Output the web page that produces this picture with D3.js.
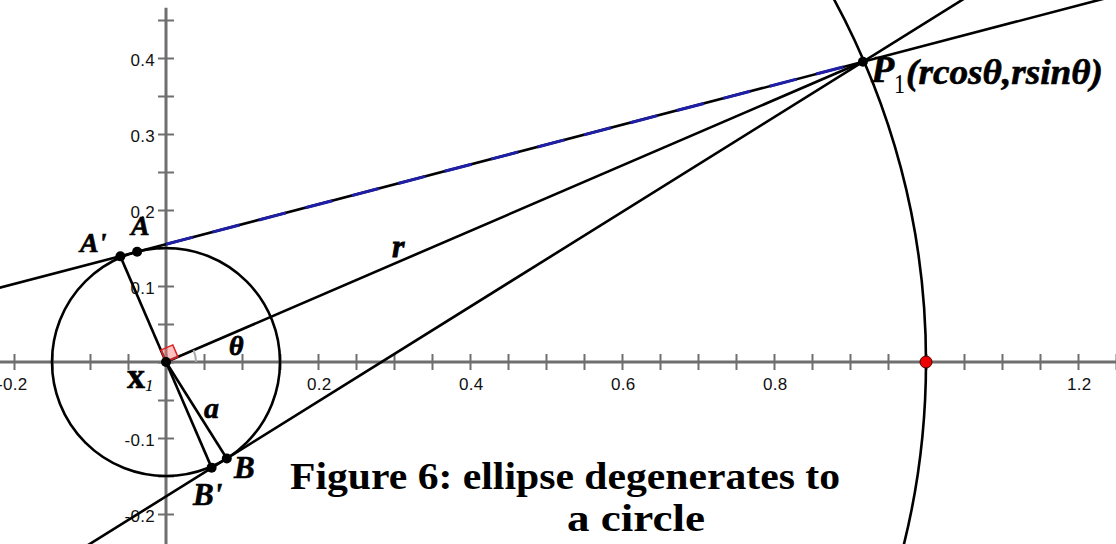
<!DOCTYPE html>
<html><head><meta charset="utf-8">
<script src="https://cdn.jsdelivr.net/npm/d3@7"></script>
<style>
html,body{margin:0;padding:0;background:#fff;}
svg{display:block;}
</style></head><body>
<svg id="c" width="1116" height="544"></svg>
<script>
// ---------- data ----------
const xTickValues = [-0.2,-0.15,-0.1,-0.05,0,0.05,0.1,0.15,0.2,0.25,0.3,0.35,0.4,0.45,0.5,0.55,0.6,0.65,0.7,0.75,0.8,0.85,0.9,0.95,1.0,1.05,1.1,1.15,1.2,1.25];
const xTickLabels = [-0.2,0.2,0.4,0.6,0.8,1.2];
const yTickValues = [-0.2,-0.15,-0.1,-0.05,0,0.05,0.1,0.15,0.2,0.25,0.3,0.35,0.4,0.45];
const yTickLabels = [0.4,0.3,0.2,0.1,-0.1,-0.2];
const pointNames = ["x1","A'","A","B","B'","P1"];
const pointX = [0, -0.060, -0.038, 0.080, 0.060, 0.917];
const pointY = [0, 0.139, 0.145, -0.127, -0.139, 0.395];
const circleRadius = 0.15;   // a
const arcRadius = 1.0;       // r
const redPointX = [1.0];
const redPointY = [0];
const fullLines = [["P1","A"],["P1","B"]];
const segments = [["x1","P1"],["x1","A'"],["x1","B"],["x1","B'"]];
const blueStartX = 0;
const captionLines = ["Figure 6: ellipse degenerates to","a circle"];

// ---------- scales ----------
const W = 1116, H = 544;
const x = d3.scaleLinear().domain([0,1]).range([166,926]);
const y = d3.scaleLinear().domain([0,1]).range([362,-398]);
const svg = d3.select("#c");
svg.append("rect").attr("width",W).attr("height",H).attr("fill","#fff");

const P = {};
pointNames.forEach((n,i)=>P[n]={x:pointX[i],y:pointY[i]});
const theta = Math.atan2(P.P1.y, P.P1.x);

// ---------- axes ----------
const axisColor = "#6f6f6f";
const tickFont = "Liberation Sans, Arial, sans-serif";
svg.append("line").attr("x1",0).attr("x2",W).attr("y1",y(0)).attr("y2",y(0))
  .attr("stroke",axisColor).attr("stroke-width",3);
svg.append("line").attr("x1",x(0)).attr("x2",x(0)).attr("y1",y(0.466)).attr("y2",H)
  .attr("stroke",axisColor).attr("stroke-width",3);

const gx = svg.append("g").attr("transform",`translate(0,${y(0)-8})`)
  .call(d3.axisBottom(x).tickValues(xTickValues).tickSize(16).tickFormat(""));
gx.select(".domain").remove();
gx.selectAll(".tick line").attr("stroke",axisColor).attr("stroke-width",2);

const gy = svg.append("g").attr("transform",`translate(${x(0)+8},0)`)
  .call(d3.axisLeft(y).tickValues(yTickValues).tickSize(16).tickFormat(""));
gy.select(".domain").remove();
gy.selectAll(".tick line").attr("stroke",axisColor).attr("stroke-width",2);

const gxl = svg.append("g").attr("transform",`translate(0,${y(0)})`)
  .call(d3.axisBottom(x).tickValues(xTickLabels).tickSize(0).tickPadding(16).tickFormat(d=>d.toFixed(1)));
gxl.select(".domain").remove();
gxl.selectAll("text").attr("text-anchor","end").attr("x",13)
  .attr("font-family",tickFont).attr("font-size",17).attr("letter-spacing",0.3).attr("fill","#111");

const gyl = svg.append("g").attr("transform",`translate(${x(0)},2)`)
  .call(d3.axisLeft(y).tickValues(yTickLabels).tickSize(0).tickPadding(11).tickFormat(d=>d.toFixed(1)));
gyl.select(".domain").remove();
gyl.selectAll("text")
  .attr("font-family",tickFont).attr("font-size",17).attr("letter-spacing",0.3).attr("fill","#111");

// ---------- geometry ----------
const ink = "#000";
svg.append("circle").attr("cx",x(0)).attr("cy",y(0)).attr("r",x(arcRadius)-x(0))
  .attr("fill","none").attr("stroke",ink).attr("stroke-width",2.6);
svg.append("circle").attr("cx",x(0)).attr("cy",y(0)).attr("r",x(circleRadius)-x(0))
  .attr("fill","none").attr("stroke",ink).attr("stroke-width",2.6);

fullLines.forEach(([a,b])=>{
  const p=P[a], q=P[b], dx=q.x-p.x, dy=q.y-p.y;
  svg.append("line")
    .attr("x1",x(p.x-3*dx)).attr("y1",y(p.y-3*dy))
    .attr("x2",x(p.x+3*dx)).attr("y2",y(p.y+3*dy))
    .attr("stroke",ink).attr("stroke-width",2.6);
});
{
  const p=P.P1, q=P.A;
  const t=(blueStartX-p.x)/(q.x-p.x);
  const by=p.y+t*(q.y-p.y);
  svg.append("line").attr("x1",x(blueStartX)).attr("y1",y(by)).attr("x2",x(p.x)).attr("y2",y(p.y))
    .attr("stroke","#1e1ea6").attr("stroke-width",3).attr("stroke-dasharray","28,20");
}
segments.forEach(([a,b])=>{
  svg.append("line").attr("x1",x(P[a].x)).attr("y1",y(P[a].y)).attr("x2",x(P[b].x)).attr("y2",y(P[b].y))
    .attr("stroke",ink).attr("stroke-width",2.6);
});

// right angle marker and angle arc
{
  const s=13, c=Math.cos(theta), sn=Math.sin(theta);
  const ox=x(0), oy=y(0);
  const pts=[[ox,oy],[ox+s*c,oy-s*sn],[ox+s*c-s*sn,oy-s*sn-s*c],[ox-s*sn,oy-s*c]];
  svg.append("polygon").attr("points",pts.map(p=>p.join(",")).join(" "))
    .attr("fill","rgba(255,120,120,0.45)").attr("stroke","#e02020").attr("stroke-width",1.5);
  const R=30;
  svg.append("path").attr("d",`M${ox+R},${oy} A${R},${R} 0 0 0 ${ox+R*c},${oy-R*sn}`)
    .attr("fill","none").attr("stroke","#a8a8a8").attr("stroke-width",2);
}

pointNames.forEach(n=>{
  svg.append("circle").attr("cx",x(P[n].x)).attr("cy",y(P[n].y)).attr("r",5).attr("fill",ink);
});
redPointX.forEach((v,i)=>{
  svg.append("circle").attr("cx",x(v)).attr("cy",y(redPointY[i])).attr("r",6)
    .attr("fill","#ee0000").attr("stroke","#400").attr("stroke-width",1);
});

// ---------- labels ----------
const serif = "Liberation Serif, Times New Roman, serif";
function lab(txt,px,py,size,opts={}){
  return svg.append("text").attr("x",px).attr("y",py).text(txt)
    .attr("font-family",serif).attr("font-size",size)
    .attr("font-weight",opts.w||"bold").attr("font-style",opts.s||"italic").attr("fill","#000")
    .attr("stroke",opts.stroke?"#000":"none").attr("stroke-width",opts.stroke||0);
}
lab("A'",80,252,28,{stroke:0.6});
lab("A",131,235,28,{stroke:0.6});
lab("r",392,257,32,{stroke:0.8});
lab("θ",229,355,28,{stroke:0.8});
lab("a",204,418,30,{stroke:0.6});
lab("B",234,478,31,{stroke:0.6});
lab("B'",193,505,31,{stroke:0.6});
{
  const t=svg.append("text").attr("x",127).attr("y",388).attr("font-family",serif).attr("fill","#000");
  t.append("tspan").text("x").attr("font-size",36).attr("font-weight","bold").attr("stroke","#000").attr("stroke-width",0.6);
  t.append("tspan").text("1").attr("font-size",17).attr("font-style","italic").attr("dy",3);
}
{
  svg.append("text").attr("x",871).attr("y",82).text("P")
    .attr("font-family",serif).attr("font-size",38).attr("font-weight","bold").attr("font-style","italic")
    .attr("stroke","#000").attr("stroke-width",0.6);
  svg.append("text").attr("x",894).attr("y",93).text("1")
    .attr("font-family",serif).attr("font-size",28)
    .attr("textLength",11).attr("lengthAdjust","spacingAndGlyphs");
  svg.append("text").attr("x",906).attr("y",84).text("(rcosθ,rsinθ)")
    .attr("font-family",serif).attr("font-size",36).attr("font-weight","bold").attr("font-style","italic")
    .attr("stroke","#000").attr("stroke-width",0.6)
    .attr("textLength",197).attr("lengthAdjust","spacingAndGlyphs");
}
svg.append("text").attr("x",290).attr("y",489).text(captionLines[0])
  .attr("font-family",serif).attr("font-size",37).attr("font-weight","bold")
  .attr("textLength",550).attr("lengthAdjust","spacingAndGlyphs");
svg.append("text").attr("x",567).attr("y",531).text(captionLines[1])
  .attr("font-family",serif).attr("font-size",37).attr("font-weight","bold")
  .attr("textLength",138).attr("lengthAdjust","spacingAndGlyphs");
</script>
</body></html>
